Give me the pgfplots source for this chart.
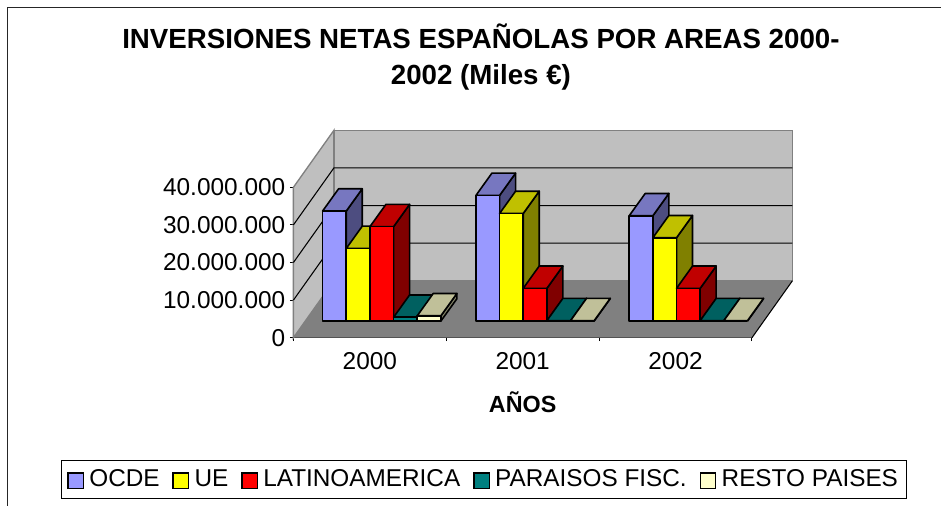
\documentclass[border=0pt]{standalone}
\usepackage{pgfplots}
\usepackage{fontspec}
\setmainfont{Liberation Sans}
\pgfplotsset{compat=1.18}
\definecolor{aF}{HTML}{9999FF}\definecolor{aT}{HTML}{7777C0}\definecolor{aS}{HTML}{4D4D80}
\definecolor{bF}{HTML}{FFFF00}\definecolor{bT}{HTML}{C0C000}\definecolor{bS}{HTML}{808000}
\definecolor{cF}{HTML}{FF0000}\definecolor{cT}{HTML}{C00000}\definecolor{cS}{HTML}{800000}
\definecolor{dF}{HTML}{008080}\definecolor{dT}{HTML}{006060}\definecolor{dS}{HTML}{004040}
\definecolor{eF}{HTML}{FFFFCC}\definecolor{eT}{HTML}{C0C099}\definecolor{eS}{HTML}{808066}
\newcommand\tdbar[3]{% x start, value, colour prefix
  \pgfmathsetmacro\xa{#1}\pgfmathsetmacro\xb{#1+0.1548}%
  \pgfmathsetmacro\xc{#1+0.1047}\pgfmathsetmacro\xd{#1+0.2595}%
  \pgfmathsetmacro\yt{4.44+#2}\pgfmathsetmacro\yu{4.44+#2+5.93}%
  \addplot[fill=#3S,draw=black,line width=1.2pt,line join=round,forget plot] coordinates {(\xb,4.44) (\xd,10.37) (\xd,\yu) (\xb,\yt)} -- cycle;
  \addplot[fill=#3T,draw=black,line width=1.2pt,line join=round,forget plot] coordinates {(\xa,\yt) (\xb,\yt) (\xd,\yu) (\xc,\yu)} -- cycle;
  \addplot[fill=#3F,draw=black,line width=1.2pt,line join=round,forget plot] coordinates {(\xa,4.44) (\xb,4.44) (\xb,\yt) (\xa,\yt)} -- cycle;
}
\newcommand\swatch[1]{\addlegendimage{legend image code/.code={\draw[fill=#1,draw=black,line width=1.1pt] (0pt,-6.6pt) rectangle (11.6pt,5.0pt);}}}
\begin{document}
\begin{tikzpicture}
\path[use as bounding box] (0pt,0pt) rectangle (705.75pt,-379.5pt);
\draw[line width=1pt,black!85] (5.7pt,-379.5pt) -- (5.7pt,-5.7pt) -- (705.75pt,-5.7pt);
\begin{axis}[
  at={(220.05pt,-253.3pt)},anchor=south west,
  scale only axis,width=343.9pt,height=112.8pt,
  xmin=0,xmax=3,ymin=0,ymax=40,clip=false,
  axis lines=left,axis line style={-,line width=0.9pt,black},
  xtick={0.5,1.5,2.5},xticklabels={2000,2001,2002},
  minor xtick={0,1,2,3},
  ytick={0,10,20,30,40},
  yticklabels={0,10.000.000,20.000.000,30.000.000,40.000.000},
  tick align=outside,major tick length=2.6pt,minor tick length=2.6pt,
  major x tick style={draw=none},
  tick style={black,line width=0.7pt},
  ticklabel style={font=\fontsize{18.3}{21}\selectfont},
  xticklabel style={yshift=-4.7pt},
  yticklabel style={xshift=0pt},
  title={INVERSIONES NETAS ESPAÑOLAS POR AREAS 2000-\\2002 (Miles €)},
  title style={at={(0.409,1.812)},anchor=center,align=center,
    font=\fontsize{20.76}{26.5}\selectfont\bfseries},
  xlabel={AÑOS},
  xlabel style={at={(0.5,-0.428)},anchor=center,
    font=\fontsize{17.5}{20}\selectfont\bfseries},
  legend columns=5,
  legend style={at={(0.4155,-0.9424)},anchor=center,draw=black,fill=white,
    line width=0.8pt,
    font=\fontsize{18.25}{21}\selectfont,
    inner xsep=4.3pt,inner ysep=4.9pt,
    nodes={inner sep=2pt},
    /tikz/every odd column/.append style={column sep=1.9pt},
    /tikz/every even column/.append style={column sep=7.6pt}},
]
% walls and floor
\addplot[fill=black!25,draw=black!50,line width=1pt,forget plot] coordinates {(0,0) (0.265,15.16) (0.265,55.16) (0,40)} -- cycle;
\addplot[fill=black!25,draw=black!50,line width=1pt,forget plot] coordinates {(0.265,15.16) (3.265,15.16) (3.265,55.16) (0.265,55.16)} -- cycle;
\addplot[fill=black!50,draw=none,forget plot] coordinates {(0,0) (3,0) (3.265,15.16) (0.265,15.16)} -- cycle;
% grid lines
\addplot[black,line width=0.8pt,forget plot] coordinates {(0,10) (0.265,25.16) (3.265,25.16)};
\addplot[black,line width=0.8pt,forget plot] coordinates {(0,20) (0.265,35.16) (3.265,35.16)};
\addplot[black,line width=0.8pt,forget plot] coordinates {(0,30) (0.265,45.16) (3.265,45.16)};
\addplot[black,line width=0.8pt,forget plot] coordinates {(3,0) (3.265,15.16)};
% 2000
\tdbar{0.191}{29.25}{a}\tdbar{0.3458}{19.3}{b}\tdbar{0.5006}{25.1}{c}\tdbar{0.6554}{1.0}{d}\tdbar{0.8102}{1.4}{e}
% 2001
\tdbar{1.194}{33.4}{a}\tdbar{1.3488}{28.6}{b}\tdbar{1.5036}{8.7}{c}\tdbar{1.6584}{0.1}{d}\tdbar{1.8132}{0.1}{e}
% 2002
\tdbar{2.197}{28.0}{a}\tdbar{2.3518}{22.15}{b}\tdbar{2.5066}{8.7}{c}\tdbar{2.6614}{0.1}{d}\tdbar{2.8162}{0.1}{e}
\swatch{aF}\addlegendentry{OCDE}
\swatch{bF}\addlegendentry{UE}
\swatch{cF}\addlegendentry{LATINOAMERICA}
\swatch{dF}\addlegendentry{PARAISOS FISC.}
\swatch{eF}\addlegendentry{RESTO PAISES}
\end{axis}
\end{tikzpicture}
\end{document}
